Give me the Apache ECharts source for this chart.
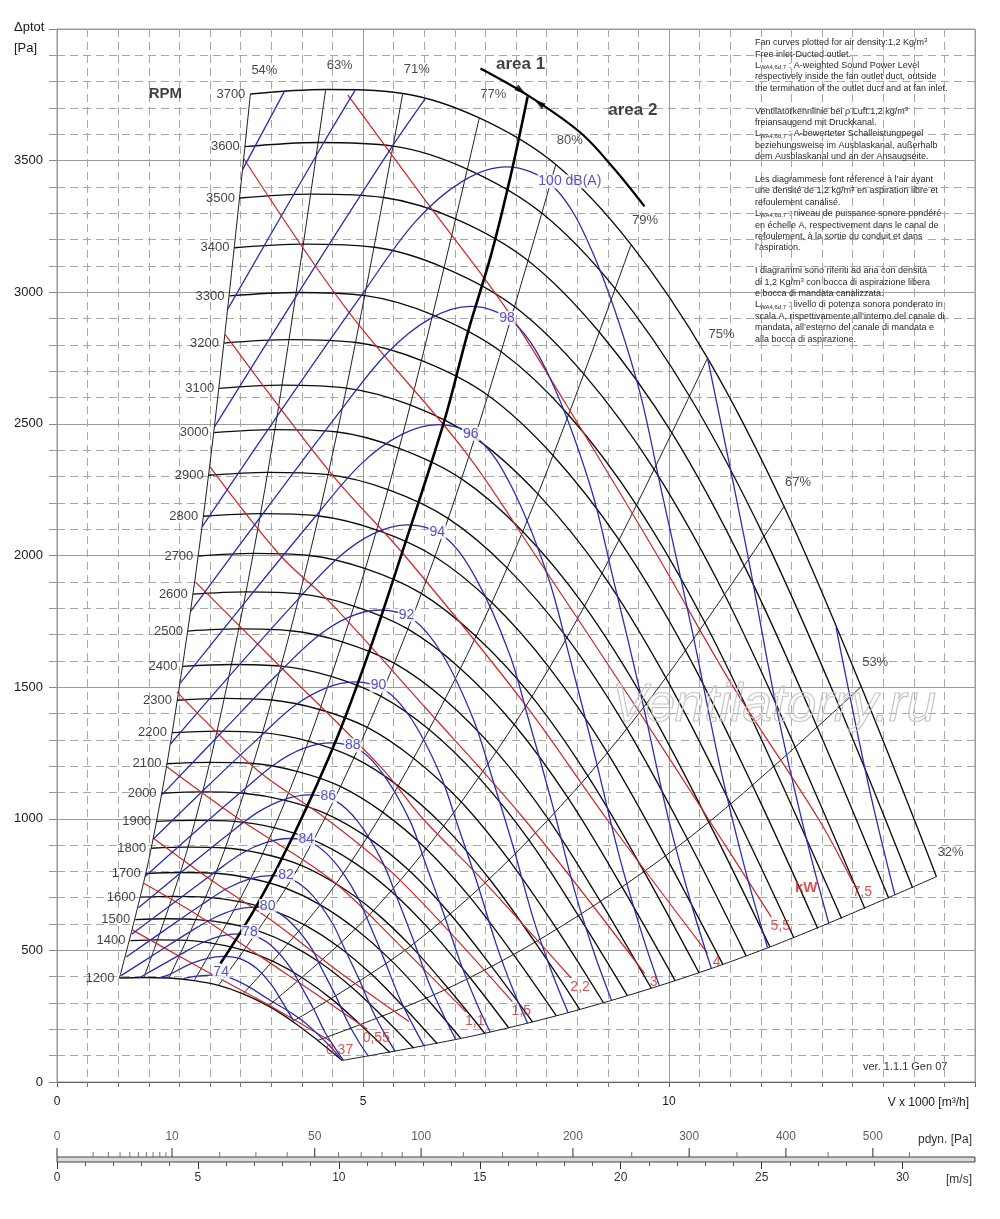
<!DOCTYPE html>
<html>
<head>
<meta charset="utf-8">
<title>Fan curves</title>
<script src="https://cdn.jsdelivr.net/npm/echarts@6/dist/echarts.min.js"></script>
<style>
html,body{margin:0;padding:0;background:#ffffff;}
#chart{width:1000px;height:1219px;}
</style>
</head>
<body>
<div id="chart"></div>
<script>
// ---------------- values ----------------
const xTickLabels = [0, 5, 10];
const yTickLabels = [0, 500, 1000, 1500, 2000, 2500, 3000, 3500];

const rpmValues = [1200,1400,1500,1600,1700,1800,1900,2000,2100,2200,2300,2400,2500,2600,2700,2800,2900,3000,3100,3200,3300,3400,3500,3600,3700];

const rpmCurves = [
 [[1.02,395],[1.42,397],[1.83,395],[2.24,385],[2.64,367],[3.04,335],[3.45,289],[3.85,230],[4.26,158],[4.66,82]],
 [[1.20,537],[1.66,540],[2.14,538],[2.61,524],[3.08,499],[3.55,456],[4.02,394],[4.50,313],[4.97,215],[5.44,112]],
 [[1.28,617],[1.78,620],[2.29,617],[2.80,602],[3.30,573],[3.80,523],[4.31,452],[4.82,359],[5.33,247],[5.83,128]],
 [[1.37,702],[1.90,705],[2.44,702],[2.98,685],[3.52,652],[4.06,595],[4.60,514],[5.14,409],[5.68,281],[6.21,146]],
 [[1.45,792],[2.02,796],[2.60,793],[3.17,773],[3.74,736],[4.31,672],[4.88,581],[5.46,462],[6.04,317],[6.60,165]],
 [[1.54,888],[2.14,892],[2.75,889],[3.36,867],[3.97,825],[4.56,753],[5.17,651],[5.78,517],[6.39,356],[6.99,185]],
 [[1.62,990],[2.25,994],[2.90,990],[3.54,966],[4.19,919],[4.82,839],[5.46,725],[6.10,576],[6.75,396],[7.38,206]],
 [[1.71,1097],[2.37,1102],[3.05,1097],[3.73,1070],[4.41,1018],[5.07,930],[5.75,804],[6.42,639],[7.10,439],[7.77,228]],
 [[1.79,1209],[2.49,1214],[3.21,1210],[3.92,1180],[4.63,1123],[5.32,1025],[6.03,886],[6.74,704],[7.46,484],[8.16,251]],
 [[1.88,1327],[2.61,1333],[3.36,1327],[4.10,1295],[4.85,1232],[5.58,1124],[6.32,972],[7.06,773],[7.81,531],[8.54,276]],
 [[1.96,1450],[2.73,1457],[3.51,1451],[4.29,1415],[5.07,1347],[5.83,1229],[6.61,1063],[7.38,845],[8.17,580],[8.93,301]],
 [[2.05,1579],[2.85,1586],[3.66,1580],[4.48,1541],[5.29,1466],[6.08,1339],[6.89,1157],[7.71,920],[8.52,632],[9.32,328]],
 [[2.14,1713],[2.97,1721],[3.82,1714],[4.66,1672],[5.51,1591],[6.34,1452],[7.18,1255],[8.03,998],[8.88,686],[9.71,356]],
 [[2.22,1853],[3.08,1862],[3.97,1854],[4.85,1808],[5.73,1721],[6.59,1571],[7.47,1358],[8.35,1079],[9.23,742],[10.10,385]],
 [[2.31,1998],[3.20,2008],[4.12,2000],[5.04,1950],[5.95,1856],[6.84,1694],[7.76,1464],[8.67,1164],[9.59,800],[10.49,415]],
 [[2.39,2149],[3.32,2159],[4.28,2150],[5.22,2097],[6.17,1996],[7.10,1822],[8.04,1575],[8.99,1252],[9.94,860],[10.88,447]],
 [[2.48,2305],[3.44,2316],[4.43,2307],[5.41,2250],[6.39,2141],[7.35,1954],[8.33,1689],[9.31,1343],[10.30,923],[11.26,479]],
 [[2.56,2467],[3.56,2478],[4.58,2469],[5.59,2407],[6.61,2291],[7.61,2091],[8.62,1808],[9.63,1437],[10.65,987],[11.65,513]],
 [[2.65,2635],[3.68,2647],[4.73,2636],[5.78,2571],[6.83,2447],[7.86,2233],[8.91,1931],[9.95,1535],[11.01,1054],[12.04,548]],
 [[2.73,2807],[3.80,2820],[4.89,2809],[5.97,2739],[7.05,2607],[8.11,2379],[9.19,2057],[10.28,1635],[11.37,1124],[12.43,583]],
 [[2.82,2986],[3.92,2999],[5.04,2987],[6.15,2913],[7.27,2772],[8.37,2531],[9.48,2188],[10.60,1739],[11.72,1195],[12.82,621]],
 [[2.90,3169],[4.03,3183],[5.19,3171],[6.34,3092],[7.49,2943],[8.62,2686],[9.77,2322],[10.92,1846],[12.07,1268],[13.20,659]],
 [[2.99,3358],[4.15,3373],[5.34,3360],[6.53,3277],[7.71,3118],[8.87,2846],[10.06,2461],[11.24,1956],[12.43,1344],[13.59,698]],
 [[3.07,3553],[4.27,3569],[5.50,3555],[6.71,3467],[7.93,3299],[9.13,3011],[10.34,2603],[11.56,2069],[12.79,1422],[13.98,738]],
 [[3.16,3753],[4.39,3770],[5.65,3755],[6.90,3662],[8.15,3485],[9.38,3181],[10.63,2750],[11.88,2186],[13.14,1502],[14.37,780]]
];

const effLabels = ['54%','63%','71%','77%','80%','79%','75%','67%','53%','32%'];
const effLines = [
 [[1.02,395],[1.54,888],[2.05,1579],[2.56,2467],[3.16,3753]],
 [[1.42,397],[2.14,892],[2.85,1586],[3.56,2478],[4.39,3770]],
 [[1.83,395],[2.75,889],[3.66,1580],[4.58,2469],[5.65,3755]],
 [[2.24,385],[3.36,867],[4.48,1541],[5.59,2407],[6.90,3662]],
 [[2.64,367],[3.97,825],[5.29,1466],[6.61,2291],[8.15,3485]],
 [[3.04,335],[4.56,753],[6.08,1339],[7.61,2091],[9.38,3181]],
 [[3.45,289],[5.17,651],[6.89,1157],[8.62,1808],[10.63,2750]],
 [[3.85,230],[5.78,517],[7.71,920],[9.63,1437],[11.88,2186]],
 [[4.26,158],[6.39,356],[8.52,632],[10.65,987],[13.14,1502]],
 [[4.66,82],[6.99,185],[9.32,328],[11.65,513],[14.37,780]]
];

const dbLabels = ['74','','78','80','82','84','86','88','90','92','94','96','98','100 dB(A)'];
const dbCurves = [
 [[2.07,394],[2.30,402],[2.51,406],[2.80,397],[3.10,366],[3.43,318],[3.98,238],[4.40,150],[4.63,91]],
 [[1.66,395],[1.86,411],[2.18,449],[2.46,470],[2.73,477],[3.01,467],[3.26,432],[3.51,367],[3.67,308],[3.86,234]],
 [[1.34,395],[1.49,415],[2.02,485],[2.37,529],[2.67,554],[2.96,563],[3.27,551],[3.54,510],[3.82,433],[3.99,363],[4.19,279],[4.37,193],[4.54,130],[4.68,83]],
 [[1.04,403],[1.62,489],[2.19,573],[2.57,624],[2.90,654],[3.22,664],[3.56,650],[3.84,601],[4.15,511],[4.33,428],[4.55,329],[4.75,228],[4.93,153],[5.09,98]],
 [[1.13,475],[1.76,577],[2.38,676],[2.79,737],[3.15,772],[3.49,784],[3.86,767],[4.17,710],[4.50,603],[4.70,506],[4.94,388],[5.16,269],[5.36,181],[5.53,115]],
 [[1.22,561],[1.91,681],[2.58,797],[3.03,870],[3.42,910],[3.79,925],[4.19,905],[4.53,837],[4.89,712],[5.11,597],[5.36,458],[5.60,317],[5.82,214],[6.00,136]],
 [[1.33,662],[2.07,804],[2.80,941],[3.29,1026],[3.72,1074],[4.12,1091],[4.55,1068],[4.92,988],[5.31,840],[5.55,704],[5.82,541],[6.08,374],[6.32,252],[6.52,160]],
 [[1.44,781],[2.25,949],[3.05,1110],[3.58,1211],[4.04,1268],[4.48,1288],[4.95,1260],[5.34,1166],[5.77,991],[6.02,831],[6.32,638],[6.61,442],[6.86,297],[7.08,189]],
 [[1.57,922],[2.44,1119],[3.31,1310],[3.88,1429],[4.39,1496],[4.86,1520],[5.37,1487],[5.80,1376],[6.26,1169],[6.54,980],[6.87,753],[7.18,521],[7.45,351],[7.69,223]],
 [[1.70,1088],[2.66,1321],[3.59,1546],[4.22,1686],[4.76,1765],[5.28,1793],[5.83,1755],[6.30,1623],[6.80,1380],[7.11,1156],[7.46,889],[7.79,615],[8.09,414],[8.35,264]],
 [[1.85,1283],[2.88,1559],[3.90,1824],[4.58,1989],[5.17,2083],[5.73,2116],[6.33,2071],[6.84,1915],[7.39,1628],[7.72,1365],[8.10,1049],[8.46,725],[8.78,488],[9.06,311]],
 [[2.01,1514],[3.13,1839],[4.24,2153],[4.97,2348],[5.62,2458],[6.23,2497],[6.88,2443],[7.43,2260],[8.02,1921],[8.38,1610],[8.79,1237],[9.19,856],[9.54,576],[9.84,367]],
 [[2.18,1787],[3.40,2170],[4.60,2540],[5.40,2770],[6.10,2900],[6.76,2946],[7.47,2883],[8.07,2667],[8.71,2267],[9.10,1900],[9.55,1460],[9.98,1010],[10.36,680],[10.69,433]],
 [[2.37,2109],[3.69,2561],[5.00,2997],[5.86,3269],[6.63,3422],[7.34,3476],[8.11,3402],[8.76,3147],[9.46,2675],[9.88,2242],[10.37,1723],[10.84,1192],[11.25,802],[11.61,511]]
];
const dbPartialCurves = [
 [[2.57,2488],[4.01,3022],[5.43,3537],[6.02,3736]],
 [[10.63,2750],[11.26,2033],[11.77,1406],[12.22,947],[12.61,603]],
 [[2.79,2936],[4.35,3565],[4.87,3767]],
 [[12.73,1726],[13.27,1117],[13.69,711]],
 [[3.03,3465],[3.72,3765]]
];

const kwLabels = ['0,37','0,55','','1,1','1,5','2,2','3','4','5,5','7,5'];
const kwLines = [
 [[1.23,578],[1.85,497],[2.50,413],[3.50,287],[4.47,155]],
 [[1.41,756],[2.34,628],[3.70,418],[5.07,200]],
 [[1.57,927],[2.50,770],[3.49,616],[4.60,420],[5.75,230]],
 [[1.80,1197],[2.97,1000],[4.47,770],[5.60,520],[6.68,267]],
 [[1.96,1482],[3.27,1185],[4.40,1000],[5.60,768],[7.44,305]],
 [[2.26,1900],[3.60,1589],[5.30,1194],[5.98,1000],[6.95,768],[8.40,395]],
 [[2.50,2337],[3.65,2000],[4.47,1820],[6.05,1414],[7.63,1000],[9.60,413]],
 [[2.75,2839],[4.47,2314],[5.68,2000],[7.63,1440],[8.98,1000],[10.63,489]],
 [[3.04,3512],[4.75,2930],[6.65,2400],[7.82,2000],[9.49,1414],[10.64,1000],[11.67,627]],
 [[4.75,3750],[6.00,3355],[7.33,2941],[8.34,2566],[9.81,2000],[11.01,1516],[12.44,1000],[13.01,755]]
];

const areaLine = [[2.67,450],[3.27,673],[3.87,940],[4.58,1310],[5.12,1648],[5.56,1955],[6.32,2505],[6.71,2845],[7.09,3140],[7.41,3440],[7.69,3744]];
const areaArc = [[6.92,3850],[7.72,3744],[8.56,3605],[9.10,3470],[9.60,3326]];
const arcArrows = [[7.58,3766],[7.88,3718]];

const pdynLabels = ['0','10','50','100','200','300','400','500'];
const pdynMajorX = [0,1.88,4.21,5.95,8.43,10.33,11.91,13.33];
const pdynMinorX = [0.59,0.84,1.03,1.19,1.33,1.46,1.57,1.68,1.78,2.66,3.25,3.76,4.60,4.97,5.31,5.64,6.64,7.28,7.86,9.39,11.11,12.60,13.93];
const velTickLabels = [0,5,10,15,20,25,30];

const noteLines = [
 'Fan curves plotted for air density:1,2 Kg/m{sup|3}',
 'Free inlet-Ducted outlet.',
 'L{sub|WA4,6d,7} : A-weighted Sound Power Level',
 'respectively inside the fan outlet duct, outside',
 'the termination of the outlet duct and at fan inlet.',
 '',
 'Ventilatorkennlinie bei \u03c1 Luft:1,2 kg/m{sup|3}',
 'freiansaugend mit Druckkanal.',
 'L{sub|WA4,6d,7} : A-bewerteter Schalleistungpegel',
 'beziehungsweise im Ausblaskanal, au\u00dferhalb',
 'dem Ausblaskanal und an der Ansaugseite.',
 '',
 'Les diagrammese font r\u00e9ference \u00e0 l\u2019air ayant',
 'une densit\u00e9 de 1,2 kg/m{sup|3} en aspiration libre et',
 'refoulement canalis\u00e9.',
 'L{sub|WA4,6d,7} : niveau de puissance sonore pond\u00e9r\u00e9',
 'en \u00e9chelle A, respectivement dans le canal de',
 'refoulement, \u00e0 la sortie du conduit et dans',
 'l\u2019aspiration.',
 '',
 'I diagrammi sono riferiti ad aria con densit\u00e0',
 'di 1,2 Kg/m{sup|3} con bocca di aspirazione libera',
 'e bocca di mandata canalizzata.',
 'L{sub|WA4,6d,7} : livello di potenza sonora ponderato in',
 'scala A, rispettivamente all\u2019interno del canale di',
 'mandata, all\u2019esterno del canale di mandata e',
 'alla bocca di aspirazione.'
];

// ---------------- chart ----------------
const FONT = "'Liberation Sans', Arial, sans-serif";
const BLUE = '#2c2cb0';
const RED = '#d12828';
const chart = echarts.init(document.getElementById('chart'), null, {width:1000, height:1219});

function mkLine(data, color, width, z) {
  return {type:'line', xAxisIndex:0, yAxisIndex:0, data:data, smooth:0.35, symbol:'none',
    silent:true, z:z, lineStyle:{color:color, width:width}};
}
function mkLabels(items, labelOpt, z) {
  return {type:'scatter', xAxisIndex:0, yAxisIndex:0, symbolSize:0.1, silent:true, z:z || 10,
    itemStyle:{color:'#000000'},
    data: items.map(function(it){ return {value: it.pt, label: {formatter: it.text}}; }),
    label: Object.assign({show:true, fontFamily:FONT}, labelOpt)};
}
function peakNext(c) {
  let k = 0;
  c.forEach(function(p, j){ if (p[1] > c[k][1]) k = j; });
  return c[Math.min(k + 1, c.length - 1)];
}

const series = [];
effLines.forEach(function(d){ series.push(mkLine(d, '#1e1e1e', 1.0, 2)); });
rpmCurves.forEach(function(d){ series.push(mkLine(d, '#0d0d0d', 1.35, 3)); });
kwLines.forEach(function(d){ series.push(mkLine(d, RED, 1.25, 4)); });
dbCurves.forEach(function(d){ series.push(mkLine(d, BLUE, 1.3, 5)); });
dbPartialCurves.forEach(function(d){ series.push(mkLine(d, BLUE, 1.3, 5)); });
series.push(mkLine(areaLine, '#000000', 2.6, 6));
series.push(mkLine(areaArc, '#000000', 2.2, 6));
series.push({type:'scatter', xAxisIndex:0, yAxisIndex:0, silent:true, z:7, symbol:'triangle', symbolSize:[7,11],
  itemStyle:{color:'#000'},
  data: arcArrows.map(function(p, i){ return {value:p, symbolRotate: i === 0 ? -125 : 55}; })});

// labels
series.push(mkLabels(rpmCurves.map(function(c, i){ return {pt:c[0], text:String(rpmValues[i])}; }),
  {position:'left', distance:5, fontSize:13, color:'#111'}));
series.push(mkLabels([{pt: rpmCurves[rpmCurves.length-1][0], text:'RPM'}],
  {position:'inside', offset:[-85,0], fontSize:15, fontWeight:'bold', color:'#111'}));
series.push(mkLabels(effLines.map(function(c, i){ return {pt:c[c.length-1], text:effLabels[i]}; }),
  {position:'inside', offset:[14,-24], fontSize:13, color:'#1a1a1a'}));
series.push(mkLabels(dbCurves.map(function(c, i){ return {pt:peakNext(c), text:dbLabels[i]}; }).filter(function(o){ return o.text; }),
  {position:'inside', align:'left', offset:[-16,-5], fontSize:14, color:BLUE, backgroundColor:'#ffffff', padding:[0,1]}, 12));
series.push(mkLabels(kwLines.map(function(c, i){ return {pt:c[c.length-1], text:kwLabels[i]}; }).filter(function(o){ return o.text; }),
  {position:'inside', offset:[9,9], fontSize:14, color:RED}, 12));
series.push(mkLabels([{pt: kwLines[kwLines.length-1][kwLines[kwLines.length-1].length-1], text:'kW'}],
  {position:'inside', offset:[-47,5], fontSize:15, fontWeight:'bold', color:RED}, 12));
series.push(mkLabels([{pt: areaLine[areaLine.length-1], text:'area 1'}],
  {position:'inside', offset:[-7,-32], fontSize:17, fontWeight:'bold', color:'#111'}, 12));
series.push(mkLabels([{pt: areaArc[2], text:'area 2'}],
  {position:'inside', offset:[52,-23], fontSize:17, fontWeight:'bold', color:'#111'}, 12));

// bottom scales: pdyn ticks (above band)
series.push({type:'scatter', xAxisIndex:1, yAxisIndex:1, silent:true, z:5, symbol:'rect', symbolSize:[1.3,9],
  symbolOffset:[0,-4.5], itemStyle:{color:'#333'},
  label:{show:true, position:'top', distance:5, fontSize:12, color:'#333', fontFamily:FONT},
  data: pdynMajorX.map(function(x, i){ return {value:[x,1], label:{formatter:pdynLabels[i]}}; })});
series.push({type:'scatter', xAxisIndex:1, yAxisIndex:1, silent:true, z:5, symbol:'rect', symbolSize:[1,5],
  symbolOffset:[0,-2.5], itemStyle:{color:'#555'},
  data: pdynMinorX.map(function(x){ return [x,1]; })});

const option = {
  animation:false,
  backgroundColor:'#ffffff',
  textStyle:{fontFamily:FONT},
  grid:[
    {left:57, right:25, top:29, bottom:137, show:true, borderColor:'#9a9a9a', borderWidth:1, backgroundColor:'#ffffff', outerBoundsMode:'none', containLabel:false},
    {left:57, right:25, top:1157, height:5, show:true, borderColor:'#444', borderWidth:1, backgroundColor:'#d9d9d9', outerBoundsMode:'none', containLabel:false},
    {left:57, right:97.4, top:1157, height:5, show:false, outerBoundsMode:'none', containLabel:false}
  ],
  xAxis:[
    {gridIndex:0, type:'value', min:0, max:15, interval:5,
      axisLine:{show:true, lineStyle:{color:'#666', width:1}},
      axisTick:{show:true, length:5, lineStyle:{color:'#666'}},
      minorTick:{show:true, splitNumber:10, length:5, lineStyle:{color:'#777'}},
      axisLabel:{fontSize:12, color:'#1a1a1a', margin:14,
        formatter:function(v){ return xTickLabels.indexOf(v) >= 0 ? String(v) : ''; }},
      splitLine:{show:true, lineStyle:{color:'#9a9a9a', width:1}},
      minorSplitLine:{show:true, lineStyle:{color:'#a8a8a8', width:1, type:[8,5]}}},
    {gridIndex:1, type:'value', min:0, max:15, show:false},
    {gridIndex:2, type:'value', min:0, max:30, interval:5, position:'bottom',
      axisLine:{show:false},
      axisTick:{show:true, length:7, lineStyle:{color:'#333'}},
      minorTick:{show:true, splitNumber:5, length:4, lineStyle:{color:'#555'}},
      axisLabel:{fontSize:12, color:'#333', margin:10,
        formatter:function(v){ return velTickLabels.indexOf(v) >= 0 ? String(v) : ''; }},
      splitLine:{show:false}}
  ],
  yAxis:[
    {gridIndex:0, type:'value', min:0, max:4000, interval:500,
      axisLine:{show:true, lineStyle:{color:'#9a9a9a'}},
      axisTick:{show:true, length:8, lineStyle:{color:'#888'}},
      minorTick:{show:true, splitNumber:5, length:8, lineStyle:{color:'#999'}},
      axisLabel:{fontSize:13, color:'#1a1a1a', margin:14,
        formatter:function(v){ return yTickLabels.indexOf(v) >= 0 ? String(v) : ''; }},
      splitLine:{show:true, lineStyle:{color:'#9a9a9a', width:1}},
      minorSplitLine:{show:true, lineStyle:{color:'#a8a8a8', width:1, type:[8,5]}}},
    {gridIndex:1, type:'value', min:0, max:1, show:false},
    {gridIndex:2, type:'value', min:0, max:1, show:false}
  ],
  graphic: [],
  series: series
};

const g = option.graphic;
g.push({type:'text', x:14, y:27, style:{text:'\u0394ptot', fontSize:13, fontFamily:FONT, fill:'#1a1a1a', verticalAlign:'middle'}});
g.push({type:'text', x:14, y:48, style:{text:'[Pa]', fontSize:13, fontFamily:FONT, fill:'#1a1a1a', verticalAlign:'middle'}});
noteLines.forEach(function(t, i){
  if (!t) return;
  g.push({type:'text', x:755, y:42.7 + i * 11.4, z:20,
    style:{text:t, fontSize:9, fontFamily:FONT, fill:'#2a2a2a', verticalAlign:'middle',
      rich:{sub:{fontSize:6, fontFamily:FONT, fill:'#2a2a2a', verticalAlign:'bottom', padding:[4,0,0,0]},
            sup:{fontSize:6, fontFamily:FONT, fill:'#2a2a2a', verticalAlign:'top', padding:[0,0,4,0]}}}});
});
g.push({type:'text', x:863, y:1067, style:{text:'ver. 1.1.1 Gen 07', fontSize:11, fontFamily:FONT, fill:'#333', verticalAlign:'middle'}});
g.push({type:'text', x:969, y:1103, style:{text:'V x 1000 [m\u00b3/h]', fontSize:12, fontFamily:FONT, fill:'#1a1a1a', align:'right', verticalAlign:'middle'}});
g.push({type:'text', x:972, y:1140, style:{text:'pdyn. [Pa]', fontSize:12, fontFamily:FONT, fill:'#333', align:'right', verticalAlign:'middle'}});
g.push({type:'text', x:972, y:1180, style:{text:'[m/s]', fontSize:12, fontFamily:FONT, fill:'#333', align:'right', verticalAlign:'middle'}});
g.push({type:'text', x:612, y:706, z:30, style:{text:'Ventilatorry.ru', fontSize:53, fontStyle:'italic', fontFamily:FONT, fill:'rgba(255,255,255,0)', stroke:'#c6c6c6', lineWidth:1.2, verticalAlign:'middle'}});

chart.setOption(option);
</script>
</body>
</html>
